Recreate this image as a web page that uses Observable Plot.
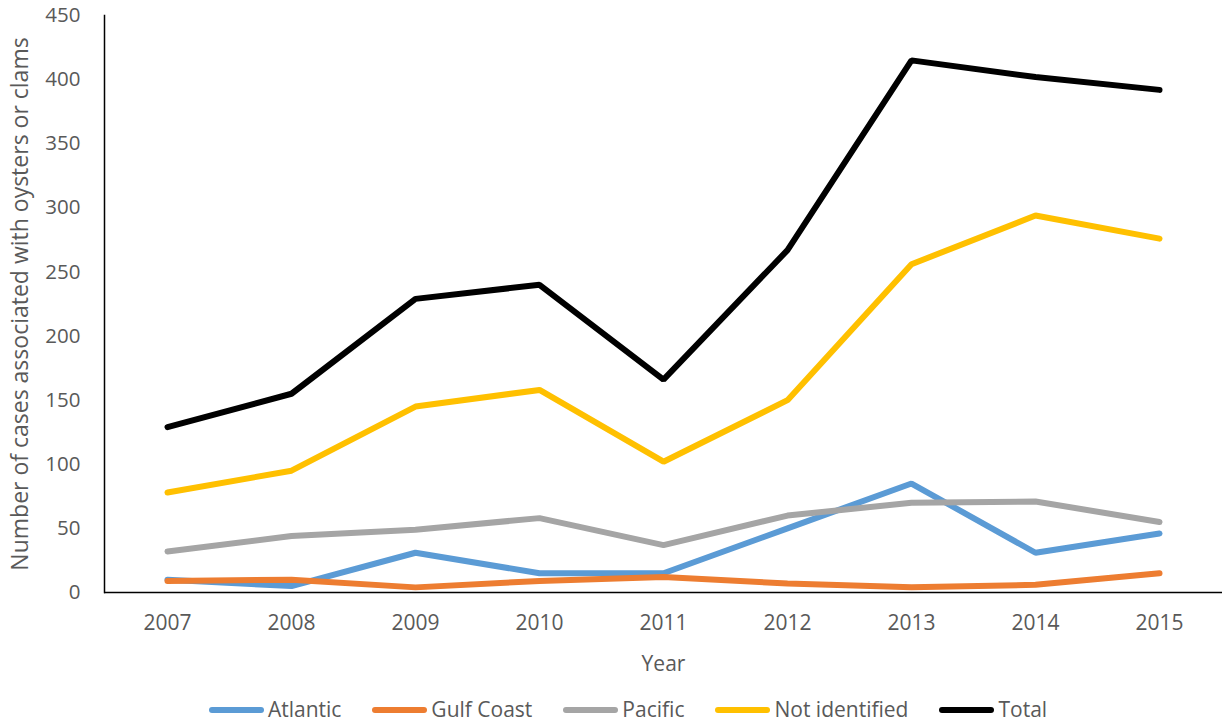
<!DOCTYPE html>
<html>
<head>
<meta charset="utf-8">
<script src="https://cdn.jsdelivr.net/npm/d3@7"></script>
<script src="https://cdn.jsdelivr.net/npm/@observablehq/plot@0.6"></script>
<style>
  html, body { margin: 0; padding: 0; background: #fff; overflow: hidden; }
  #chart svg { display: block; }
  #legend { display: flex; justify-content: center; align-items: center; gap: 31px;
    font-family: "Open Sans", sans-serif; font-size: 21px; line-height: 21px; color: #595959;
    height: 21px; padding-left: 32px; margin-top: 9px; }
  .item { display: flex; align-items: center; gap: 4px; }
  .sw { width: 55px; height: 6px; border-radius: 3px; }
</style>
</head>
<body>
<div id="chart"></div>
<div id="legend"></div>
<script>
const years = ["2007","2008","2009","2010","2011","2012","2013","2014","2015"];
const seriesNames = ["Atlantic","Gulf Coast","Pacific","Not identified","Total"];
const seriesColors = ["#5B9BD5","#ED7D31","#A5A5A5","#FFC000","#000000"];
const atlantic      = [10, 5, 31, 15, 15, 50, 85, 31, 46];
const gulfCoast     = [9, 10, 4, 9, 12, 7, 4, 6, 15];
const pacific       = [32, 44, 49, 58, 37, 60, 70, 71, 55];
const notIdentified = [78, 95, 145, 158, 102, 150, 256, 294, 276];
const total         = [129, 155, 229, 240, 166, 267, 415, 402, 392];
const yTicks = [0, 50, 100, 150, 200, 250, 300, 350, 400, 450];

const seriesValues = [atlantic, gulfCoast, pacific, notIdentified, total];
const data = [];
seriesNames.forEach((s, i) => years.forEach((y, j) => data.push({series: s, year: y, value: seriesValues[i][j]})));

const font = '"Open Sans", sans-serif';
const chart = Plot.plot({
  width: 1224, height: 690,
  marginLeft: 104, marginRight: 2, marginTop: 15, marginBottom: 98,
  style: {fontFamily: font, fontSize: "20px", color: "#595959", background: "#fff"},
  x: {type: "point", domain: years, padding: 0.5},
  y: {domain: [0, 450]},
  color: {domain: seriesNames, range: seriesColors},
  marks: [
    Plot.axisY({ticks: yTicks, tickSize: 0, tickPadding: 24, label: null, fill: "#595959", fontSize: 20.5}),
    Plot.axisY({ticks: [], label: "Number of cases associated with oysters or clams",
      labelAnchor: "center", labelArrow: "none", labelOffset: 93, fill: "#595959", fontSize: 23}),
    Plot.axisX({tickSize: 0, tickPadding: 23, label: null, fill: "#595959", fontSize: 21}),
    Plot.axisX({ticks: [], label: "Year", labelAnchor: "center", labelArrow: "none",
      labelOffset: 78, fill: "#595959", fontSize: 21}),
    Plot.line(data, {x: "year", y: "value", z: "series", stroke: "series", strokeWidth: 6,
      strokeLinecap: "round", strokeLinejoin: "miter"}),
    Plot.frame({anchor: "left", stroke: "#000", strokeWidth: 1.5}),
    Plot.ruleY([0], {stroke: "#000", strokeWidth: 1.5})
  ]
});
document.getElementById("chart").appendChild(chart);

const legend = document.getElementById("legend");
seriesNames.forEach((s, i) => {
  const it = document.createElement("div");
  it.className = "item";
  const sw = document.createElement("div");
  sw.className = "sw";
  sw.style.background = seriesColors[i];
  const t = document.createElement("span");
  t.textContent = s;
  it.appendChild(sw); it.appendChild(t);
  legend.appendChild(it);
});
</script>
</body>
</html>
